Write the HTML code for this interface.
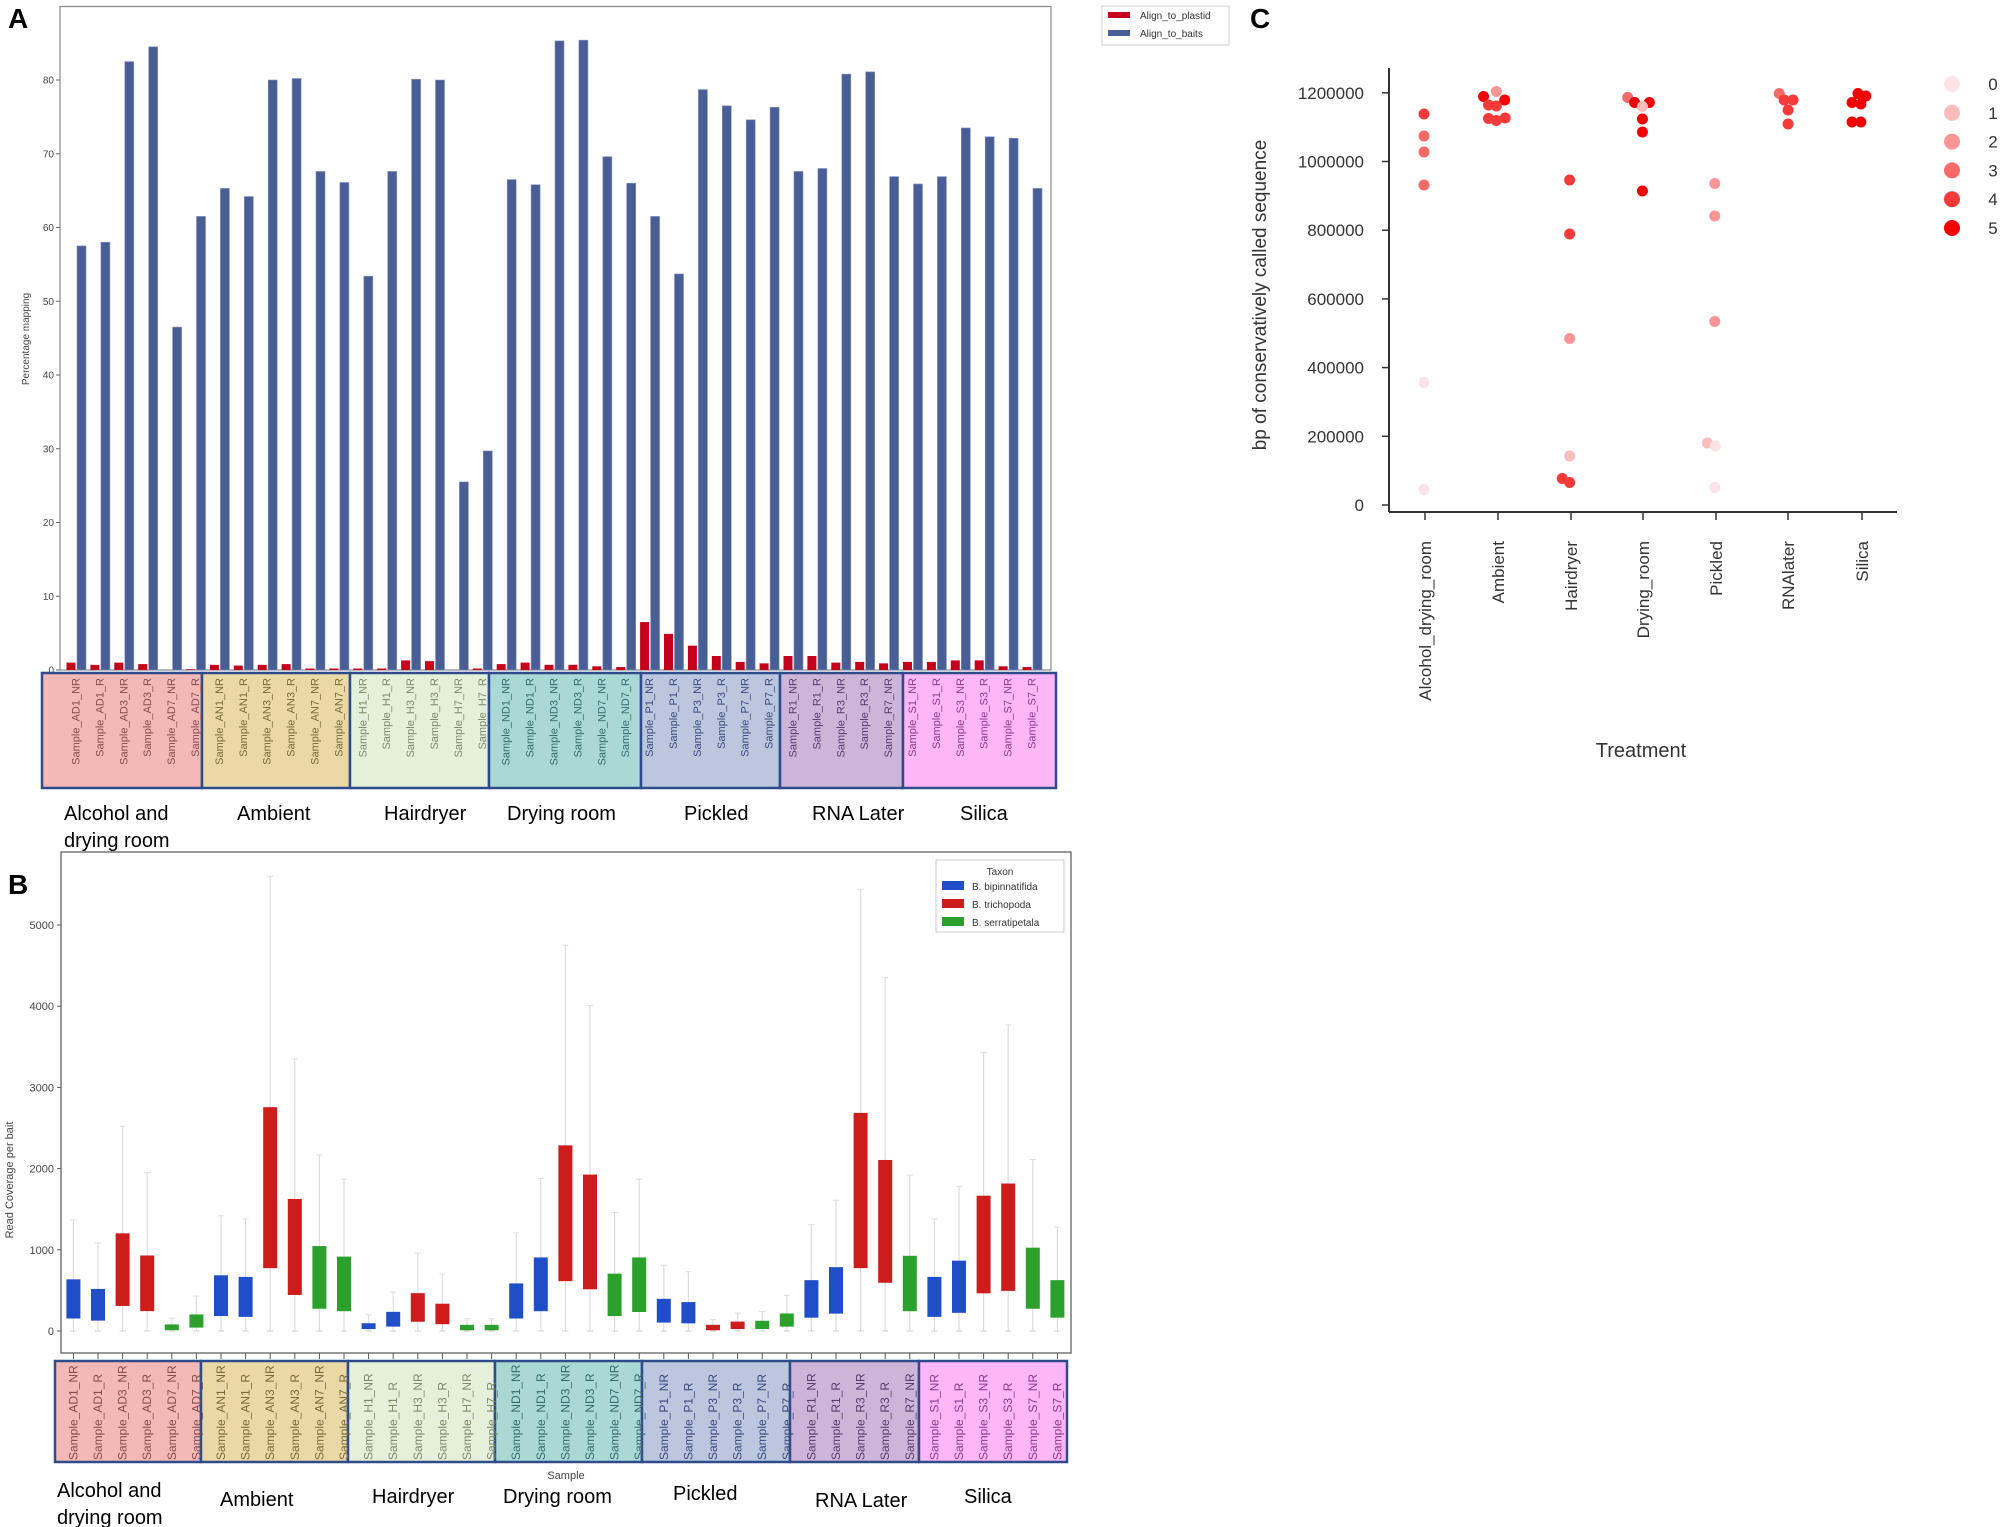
<!DOCTYPE html>
<html><head><meta charset="utf-8"><style>
html,body{margin:0;padding:0;background:#fff;}
svg{display:block;font-family:"Liberation Sans",sans-serif;}
</style></head><body>
<svg id="s" width="2008" height="1527" viewBox="0 0 2008 1527" xmlns="http://www.w3.org/2000/svg">
<rect width="2008" height="1527" fill="#fff"/>
<text x="8" y="28" font-size="28" font-weight="bold">A</text>
<text x="8" y="894" font-size="28" font-weight="bold">B</text>
<text x="1250" y="28" font-size="28" font-weight="bold">C</text>
<g id="ga"></g><g id="gb"></g><g id="gc"></g>
</svg>
<script>
var NS="http://www.w3.org/2000/svg";
function el(p,t,a,txt){var e=document.createElementNS(NS,t);for(var k in a)e.setAttribute(k,a[k]);if(txt!==undefined)e.textContent=txt;p.appendChild(e);return e;}
var names=["Sample_AD1_NR","Sample_AD1_R","Sample_AD3_NR","Sample_AD3_R","Sample_AD7_NR","Sample_AD7_R","Sample_AN1_NR","Sample_AN1_R","Sample_AN3_NR","Sample_AN3_R","Sample_AN7_NR","Sample_AN7_R","Sample_H1_NR","Sample_H1_R","Sample_H3_NR","Sample_H3_R","Sample_H7_NR","Sample_H7_R","Sample_ND1_NR","Sample_ND1_R","Sample_ND3_NR","Sample_ND3_R","Sample_ND7_NR","Sample_ND7_R","Sample_P1_NR","Sample_P1_R","Sample_P3_NR","Sample_P3_R","Sample_P7_NR","Sample_P7_R","Sample_R1_NR","Sample_R1_R","Sample_R3_NR","Sample_R3_R","Sample_R7_NR","Sample_S1_NR","Sample_S1_R","Sample_S3_NR","Sample_S3_R","Sample_S7_NR","Sample_S7_R"];
var gcol=["#f4b9b6","#ead9a6","#e4f0da","#aad8d4","#bcc7df","#cdb5da","#ffb7f7"];
var gtxt=["#8a4a4a","#7a6a3a","#7a8a6a","#3a6a6a","#3a4a7a","#5a3a6a","#8a3a8a"];
function grpOf(i){return i<36?Math.floor(i/6):(i<35?5:6);}
function gi(i){if(i<30)return Math.floor(i/6);if(i<35)return 5;return 6;}
// ---------- Panel A ----------
var A=document.getElementById("ga");
var blue=[57.5,58,82.5,84.5,46.5,61.5,65.3,64.2,80,80.2,67.6,66.1,53.4,67.6,80.1,80,25.5,29.7,66.5,65.8,85.3,85.4,69.6,66,61.5,53.7,78.7,76.5,74.6,76.3,67.6,68,80.8,81.1,66.9,65.9,66.9,73.5,72.3,72.1,65.3];
var red=[1,0.7,1,0.8,0,0.1,0.7,0.6,0.7,0.8,0.2,0.2,0.2,0.2,1.3,1.2,0,0.2,0.8,1,0.7,0.7,0.5,0.4,6.5,4.9,3.3,1.9,1.1,0.9,1.9,1.9,1,1.1,0.9,1.1,1.1,1.3,1.3,0.5,0.4];
var y0=670,py=7.375;
el(A,"rect",{x:60,y:6.5,width:991,height:663.5,fill:"#fff",stroke:"#888","stroke-width":1.2});
for(var v=0;v<=80;v+=10){var y=y0-v*py;el(A,"line",{x1:56,x2:60,y1:y,y2:y,stroke:"#666"});el(A,"text",{x:54,y:y+3.5,"font-size":10,"text-anchor":"end",fill:"#444"},""+v);}
el(A,"text",{x:29,y:339,"font-size":10,"text-anchor":"middle",fill:"#444",transform:"rotate(-90 29 339)"},"Percentage mapping");
for(var i=0;i<41;i++){var bx=81.5+i*23.9;
 el(A,"rect",{x:bx-4.5,y:y0-blue[i]*py,width:9,height:blue[i]*py,fill:"#4a5e96",stroke:"#8090c0","stroke-width":0.6});
 if(red[i]>0)el(A,"rect",{x:bx-15,y:y0-red[i]*py,width:9,height:red[i]*py,fill:"#c4001c"});}
var ab=[42,202,350,489,641,780,903,1056];
for(var g=0;g<7;g++)el(A,"rect",{x:ab[g],y:673,width:ab[g+1]-ab[g],height:115,fill:gcol[g],stroke:"#2e4c8c","stroke-width":2.5});
for(var i=0;i<41;i++){var lx=81.5+i*23.9-6;el(A,"text",{x:0,y:0,"font-size":11,"text-anchor":"end",fill:gtxt[gi(i)],transform:"translate("+(lx+4)+",678) rotate(-90)"},names[i]);}
// legend A
el(A,"rect",{x:1102,y:6,width:127,height:39,fill:"#fff",stroke:"#ccc"});
el(A,"rect",{x:1108,y:12,width:22,height:6,fill:"#c4001c"});
el(A,"text",{x:1140,y:19,"font-size":10,fill:"#333"},"Align_to_plastid");
el(A,"rect",{x:1108,y:30,width:22,height:6,fill:"#4a5e96"});
el(A,"text",{x:1140,y:37,"font-size":10,fill:"#333"},"Align_to_baits");
var glA=[["Alcohol and",64,820],["drying room",64,847],["Ambient",237,820],["Hairdryer",384,820],["Drying room",507,820],["Pickled",684,820],["RNA Later",812,820],["Silica",960,820]];
glA.forEach(function(t){el(A,"text",{x:t[1],y:t[2],"font-size":20,fill:"#000"},t[0]);});
// ---------- Panel B ----------
var B=document.getElementById("gb");
var by0=1331,bpy=0.0812;
var bd=[[630,160,1368],[512,134,1084],[1197,315,2520],[924,251,1950],[75,16,160],[198,48,430],[680,190,1420],[660,180,1380],[2750,780,5600],[1620,450,3350],[1040,280,2170],[910,250,1870],[90,30,200],[230,60,480],[460,120,960],[330,90,700],[70,15,150],[70,15,150],[580,160,1210],[900,250,1880],[2280,620,4750],[1920,520,4010],[700,190,1460],[900,240,1870],[390,110,810],[350,100,730],[70,15,140],[110,30,220],[120,30,240],[210,60,440],[620,170,1310],[780,220,1610],[2680,780,5440],[2100,600,4350],[920,250,1920],[660,180,1380],[860,230,1780],[1660,470,3430],[1810,500,3770],[1020,280,2110],[620,170,1280]];
var tc=["#1f4ec8","#cc1c1c","#2ca02c"];
el(B,"rect",{x:61,y:852,width:1010,height:501,fill:"#fff",stroke:"#555","stroke-width":1.2});
for(var v=0;v<=5000;v+=1000){var y=by0-v*bpy;el(B,"line",{x1:57,x2:61,y1:y,y2:y,stroke:"#555"});el(B,"text",{x:54,y:y+4,"font-size":11,"text-anchor":"end",fill:"#444"},""+v);}
el(B,"text",{x:13,y:1180,"font-size":11,"text-anchor":"middle",fill:"#444",transform:"rotate(-90 13 1180)"},"Read Coverage per bait");
for(var i=0;i<41;i++){var x=73.4+i*24.6;var d=bd[i];
 var c;var k=i%6;if(i<30){c=tc[Math.floor(k/2)];}else if(i<35){c=tc[Math.floor((i-30)/2)];}else{c=tc[Math.floor((i-35)/2)];}
 el(B,"line",{x1:x,x2:x,y1:by0,y2:by0-d[2]*bpy,stroke:"#ddd","stroke-width":1.2});
 el(B,"line",{x1:x-3,x2:x+3,y1:by0-d[2]*bpy,y2:by0-d[2]*bpy,stroke:"#ddd"});
 el(B,"line",{x1:x-3,x2:x+3,y1:by0,y2:by0,stroke:"#ccc"});
 el(B,"rect",{x:x-6.5,y:by0-d[0]*bpy,width:13,height:(d[0]-d[1])*bpy,fill:c,stroke:c});
 el(B,"line",{x1:x,x2:x,y1:1353,y2:1359,stroke:"#555"});}
var bb=[55,201,348,495,642,790,919,1067];
for(var g=0;g<7;g++)el(B,"rect",{x:bb[g],y:1361,width:bb[g+1]-bb[g],height:101,fill:gcol[g],stroke:"#2e4c8c","stroke-width":2.5});
for(var i=0;i<41;i++){var lx=73.4+i*24.6;el(B,"text",{x:0,y:0,"font-size":12,"text-anchor":"start",fill:gtxt[gi(i)],transform:"translate("+(lx+4)+",1460) rotate(-90)"},names[i]);}
el(B,"text",{x:566,y:1479,"font-size":11,"text-anchor":"middle",fill:"#444"},"Sample");
// legend B
el(B,"rect",{x:936,y:860,width:128,height:72,fill:"#fff",stroke:"#ccc"});
el(B,"text",{x:1000,y:875,"font-size":10,"text-anchor":"middle",fill:"#333"},"Taxon");
var ln=["B. bipinnatifida","B. trichopoda","B. serratipetala"];
for(var j=0;j<3;j++){el(B,"rect",{x:942,y:881+j*18,width:22,height:9,fill:tc[j]});el(B,"text",{x:972,y:890+j*18,"font-size":10,fill:"#333"},ln[j]);}
var glB=[["Alcohol and",57,1497],["drying room",57,1524],["Ambient",220,1506],["Hairdryer",372,1503],["Drying room",503,1503],["Pickled",673,1500],["RNA Later",815,1507],["Silica",964,1503]];
glB.forEach(function(t){el(B,"text",{x:t[1],y:t[2],"font-size":20,fill:"#000"},t[0]);});
// ---------- Panel C ----------
var C=document.getElementById("gc");
var cy0=505,cpy=68.7/200000;
el(C,"line",{x1:1389,x2:1389,y1:68,y2:512,stroke:"#333","stroke-width":2});
el(C,"line",{x1:1389,x2:1897,y1:512,y2:512,stroke:"#333","stroke-width":2});
for(var v=0;v<=1200000;v+=200000){var y=cy0-v*cpy;el(C,"line",{x1:1382,x2:1389,y1:y,y2:y,stroke:"#333","stroke-width":1.5});el(C,"text",{x:1364,y:y+6,"font-size":17,"text-anchor":"end",fill:"#333"},""+v);}
el(C,"text",{x:1266,y:295,"font-size":19,"text-anchor":"middle",fill:"#333",transform:"rotate(-90 1266 295)"},"bp of conservatively called sequence");
var cats=["Alcohol_drying_room","Ambient","Hairdryer","Drying_room","Pickled","RNAlater","Silica"];
var cxs=[1425,1498,1571,1643,1716,1788,1862];
for(var j=0;j<7;j++){el(C,"line",{x1:cxs[j],x2:cxs[j],y1:512,y2:520,stroke:"#333","stroke-width":1.5});
 el(C,"text",{x:0,y:0,"font-size":17,"text-anchor":"end",fill:"#333",transform:"translate("+(cxs[j]+6)+",541) rotate(-90)"},cats[j]);}
el(C,"text",{x:1641,y:757,"font-size":20,"text-anchor":"middle",fill:"#333"},"Treatment");
var lc=["#fde3e3","#fbbcbc","#f99595","#f76a6a","#f53a3a","#f20000"];
var dots=[[374,228,4],[374,272,3],[374,304,3],[374,370,3],[374,765,0],[374,979,0],[495,193,5],[521,183,2],[538,200,5],[505,210,4],[521,212,4],[505,237,4],[521,241,4],[539,236,4],[670,360,4],[670,468,4],[670,677,2],[670,912,1],[655,957,4],[670,965,4],[788,195,3],[802,205,5],[832,205,5],[818,213,1],[818,238,5],[818,264,5],[818,382,5],[965,367,2],[965,432,2],[965,643,2],[950,886,1],[966,892,0],[965,975,0],[1096,187,3],[1106,200,4],[1124,200,4],[1114,220,4],[1114,248,4],[1256,187,5],[1272,192,5],[1244,205,5],[1262,208,5],[1244,244,5],[1262,244,5]];
dots.forEach(function(d){el(C,"circle",{cx:1240+0.492*d[0],cy:0.5*d[1],r:5.5,fill:lc[d[2]]});});
for(var j=0;j<6;j++){var y=84+j*28.8;el(C,"circle",{cx:1952,cy:y,r:8,fill:lc[j]});el(C,"text",{x:1993,y:y+6,"font-size":17,"text-anchor":"middle",fill:"#333"},""+j);}
</script>
</body></html>
